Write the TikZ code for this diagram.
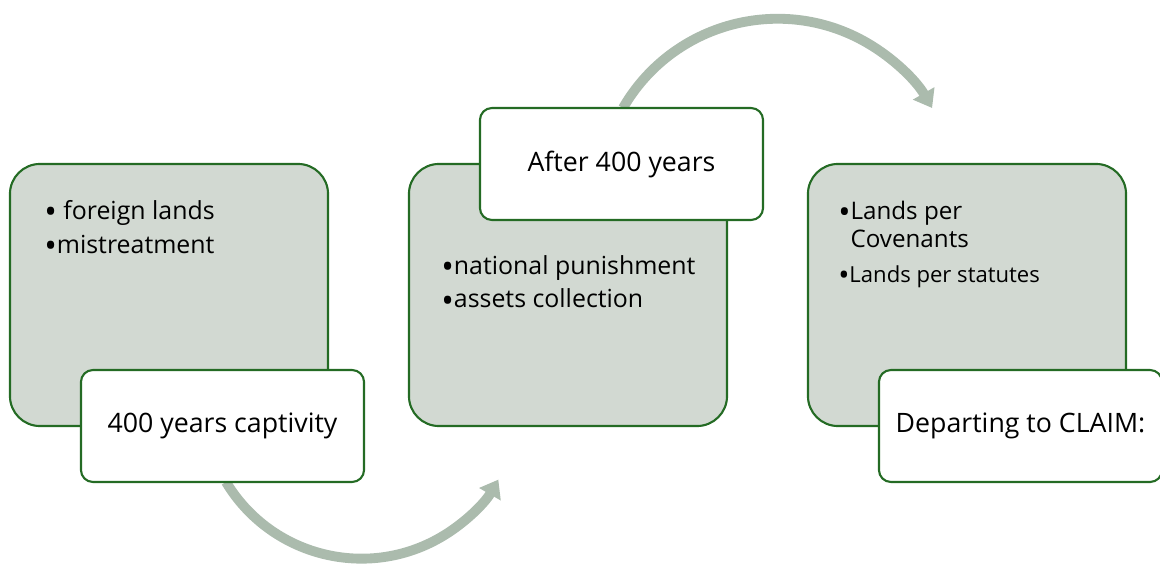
\documentclass[tikz,border=0pt]{standalone}
\usepackage{fontspec}
\setmainfont{Open Sans}
\usetikzlibrary{arrows.meta}
\definecolor{boxfill}{HTML}{D2D9D2}
\definecolor{boxline}{HTML}{246B24}
\definecolor{flowgray}{HTML}{ABBBAD}
\newcommand{\bul}{\raisebox{-0.17em}{\scalebox{1.35}{\textbullet}}}

\begin{document}
\begin{tikzpicture}[x=0.025cm, y=-0.025cm,
	bigbox/.style={draw=boxline, line width=1.5pt, fill=boxfill, rounded corners=0.75cm, minimum width=7.95cm, minimum height=6.55cm},
	capbox/.style={draw=boxline, line width=1.5pt, fill=white, rounded corners=0.3cm, minimum width=7.075cm, minimum height=2.8cm, font=\fontsize{19}{22}\selectfont},
	items/.style={anchor=north west, inner sep=0pt, align=left, font=\fontsize{17.7}{24}\selectfont},
	flow/.style={draw=flowgray, line width=7pt, arrows={-Triangle[length=12pt, width=17pt]}}]
	\useasboundingbox (0,0) rectangle (1160,565);

	\coordinate (S1) at (226,482);
	\coordinate (S2) at (623,108);
	\draw [flow] (S1) arc [start angle=211, end angle=330, radius=3.95cm];
	\draw [flow] (S2) arc [start angle=150, end angle=30, radius=4.46cm];

	\node [bigbox] (B1) at (169,295) {};
	\node [bigbox] (B2) at (568,295) {};
	\node [bigbox] (B3) at (967,295) {};

	\node [items] (T1) at (44,200) {\bul{} foreign lands\\\bul mistreatment};
	\node [items] (T2) at (441,255) {\bul national punishment\\\bul assets collection};
	\node [items, font=\fontsize{17.2}{19.9}\selectfont] (T3) at (838,201) {\bul Lands per\\\phantom{\bul}Covenants};
	\node [items, font=\fontsize{15.7}{18}\selectfont] (T4) at (838,265) {\bul Lands per statutes};

	\node [capbox] (C1) at (222.5,426) {400 years captivity};
	\node [capbox] (C2) at (621.5,164) {After 400 years};
	\node [capbox] (C3) at (1020.5,426) {Departing to CLAIM:};
\end{tikzpicture}
\end{document}
